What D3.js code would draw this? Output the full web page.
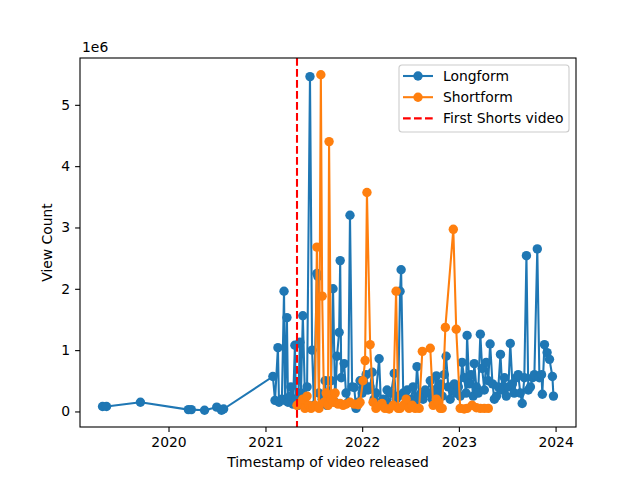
<!DOCTYPE html>
<html>
<head>
<meta charset="utf-8">
<script src="https://cdn.jsdelivr.net/npm/d3@7"></script>
<style>
  body { margin: 0; background: #fff; }
  svg text { font-family: "DejaVu Sans", sans-serif; }
</style>
</head>
<body>
<div id="chart"></div>
<script>
// release dates and view counts
var longDates = ["2019-04-27","2019-05-12","2019-09-17","2020-03-16","2020-03-27","2020-05-16","2020-07-01","2020-07-19","2020-07-27",
  "2021-01-29","2021-02-06","2021-02-17","2021-02-21","2021-03-04","2021-03-12","2021-03-16","2021-03-23","2021-03-27","2021-04-04",
  "2021-04-07","2021-04-15","2021-04-22","2021-04-26","2021-05-04","2021-05-11","2021-05-15","2021-05-22","2021-05-30","2021-06-07",
  "2021-06-18","2021-06-26","2021-07-03","2021-07-14","2021-07-18","2021-07-22","2021-08-03","2021-08-14","2021-08-21","2021-08-29",
  "2021-09-06","2021-09-13","2021-09-21","2021-09-28","2021-10-06","2021-10-10","2021-10-14","2021-10-25","2021-11-01","2021-11-09",
  "2021-11-16","2021-11-24","2021-12-02","2021-12-09","2021-12-17","2021-12-24","2022-01-01","2022-01-08","2022-01-16","2022-01-23",
  "2022-01-31","2022-02-08","2022-02-15","2022-02-22","2022-03-06","2022-03-13","2022-03-21","2022-03-28","2022-04-05","2022-04-13",
  "2022-04-20","2022-05-02","2022-05-09","2022-05-17","2022-05-24","2022-05-28","2022-06-05","2022-06-12","2022-06-20","2022-06-27",
  "2022-07-05","2022-07-12","2022-07-20","2022-07-27","2022-08-04","2022-08-12","2022-08-19","2022-08-27","2022-09-04","2022-09-15",
  "2022-09-23","2022-10-01","2022-10-08","2022-10-15","2022-10-23","2022-10-30","2022-11-07","2022-11-14","2022-11-22","2022-11-29",
  "2022-12-08","2022-12-15","2022-12-22","2022-12-30","2023-01-06","2023-01-13","2023-01-21","2023-01-28","2023-02-01","2023-02-09",
  "2023-02-16","2023-02-24","2023-02-28","2023-03-08","2023-03-15","2023-03-23","2023-03-30","2023-04-07","2023-04-14","2023-04-22",
  "2023-04-29","2023-05-08","2023-05-15","2023-05-23","2023-05-30","2023-06-07","2023-06-14","2023-06-22","2023-06-29","2023-07-07",
  "2023-07-14","2023-07-22","2023-07-29","2023-08-06","2023-08-13","2023-08-21","2023-08-28","2023-09-05","2023-09-13","2023-09-20",
  "2023-09-28","2023-10-06","2023-10-13","2023-10-24","2023-11-01","2023-11-09","2023-11-12","2023-11-20","2023-11-30","2023-12-09",
  "2023-12-20","2023-12-24"];
var longViews = [80000,80000,150000,30000,30000,20000,70000,20000,40000,
  570000,180000,1040000,150000,200000,1960000,180000,1530000,150000,250000,
  400000,120000,1080000,200000,100000,1130000,300000,1560000,250000,400000,
  5460000,1000000,100000,2250000,2200000,300000,200000,500000,100000,300000,
  500000,2000000,150000,900000,1290000,2460000,550000,780000,300000,150000,
  3200000,400000,390000,50000,150000,500000,300000,450000,600000,350000,
  400000,640000,200000,300000,860000,100000,200000,150000,350000,100000,
  300000,620000,200000,250000,1960000,2310000,300000,250000,350000,100000,
  200000,400000,150000,730000,250000,300000,200000,350000,300000,500000,
  200000,350000,580000,300000,450000,250000,600000,900000,400000,200000,
  350000,450000,300000,400000,250000,800000,550000,300000,1240000,450000,
  600000,250000,780000,400000,300000,1260000,700000,350000,800000,500000,
  1100000,450000,200000,250000,400000,930000,350000,550000,250000,400000,
  1110000,450000,300000,550000,600000,300000,130000,550000,2540000,350000,
  400000,550000,600000,2650000,550000,600000,280000,1090000,960000,850000,
  570000,250000];

var shortDates = ["2021-04-30","2021-05-07","2021-05-15","2021-05-22","2021-05-30","2021-06-07","2021-06-14","2021-06-22","2021-06-29",
  "2021-07-07","2021-07-14","2021-07-22","2021-07-29","2021-08-03","2021-08-10","2021-08-18","2021-08-25","2021-08-29","2021-09-06",
  "2021-09-13","2021-09-21","2021-10-02","2021-10-10","2021-10-21","2021-11-01","2021-11-16","2021-12-02","2021-12-17","2021-12-24",
  "2022-01-04","2022-01-12","2022-01-19","2022-01-31","2022-02-11","2022-02-22","2022-03-02","2022-03-17","2022-03-28","2022-04-13",
  "2022-04-28","2022-05-09","2022-05-17","2022-05-24","2022-06-05","2022-06-16","2022-06-27","2022-07-09","2022-07-20","2022-08-04",
  "2022-08-16","2022-09-15","2022-09-26","2022-10-08","2022-10-15","2022-10-23","2022-10-30","2022-11-11","2022-12-11","2022-12-22",
  "2023-01-06","2023-01-21","2023-02-01","2023-02-20","2023-03-08","2023-03-23","2023-04-07","2023-04-22"];
var shortViews = [100000,120000,150000,200000,50000,250000,100000,50000,80000,
  100000,2680000,50000,5490000,1880000,150000,300000,100000,4400000,200000,
  150000,300000,120000,130000,100000,120000,150000,120000,110000,150000,
  500000,830000,3570000,1090000,150000,50000,80000,130000,50000,40000,
  100000,1960000,50000,50000,100000,200000,50000,100000,50000,50000,
  980000,1030000,100000,200000,150000,50000,50000,1370000,2970000,1340000,
  50000,40000,50000,100000,60000,50000,50000,50000];

var firstShorts = "2021-04-30";
var xTickYears = [2020, 2021, 2022, 2023, 2024];
var yTicks = [0, 1e6, 2e6, 3e6, 4e6, 5e6];

var W = 640, H = 480;
var m = {left: 80, right: 64, top: 58, bottom: 53};
var iw = W - m.left - m.right, ih = H - m.top - m.bottom;
var R = 4.7;

var parse = d3.timeParse("%Y-%m-%d");
var longData = longDates.map(function(d, i){ return {x: parse(d), y: longViews[i]}; });
var shortData = shortDates.map(function(d, i){ return {x: parse(d), y: shortViews[i]}; });
var all = longData.concat(shortData);

var xExt = d3.extent(all, function(d){ return +d.x; });
var xPad = (xExt[1] - xExt[0]) * 0.05;
var x = d3.scaleTime().domain([new Date(xExt[0] - xPad), new Date(xExt[1] + xPad)]).range([0, iw]);
var yExt = d3.extent(all, function(d){ return d.y; });
var yPad = (yExt[1] - yExt[0]) * 0.05;
var y = d3.scaleLinear().domain([yExt[0] - yPad, yExt[1] + yPad]).range([ih, 0]);

var svg = d3.select("#chart").append("svg").attr("width", W).attr("height", H);
var g = svg.append("g").attr("transform", "translate(" + m.left + "," + m.top + ")");

var line = d3.line().x(function(d){ return x(d.x); }).y(function(d){ return y(d.y); });

function drawSeries(data, color) {
  g.append("path").datum(data)
    .attr("fill", "none").attr("stroke", color).attr("stroke-width", 2.08)
    .attr("stroke-linejoin", "round").attr("d", line);
  g.append("g").selectAll("circle").data(data).enter().append("circle")
    .attr("cx", function(d){ return x(d.x); })
    .attr("cy", function(d){ return y(d.y); })
    .attr("r", R).attr("fill", color);
}
drawSeries(longData, "#1f77b4");
drawSeries(shortData, "#ff7f0e");

// first shorts marker
var fx = x(parse(firstShorts));
g.append("line").attr("x1", fx).attr("x2", fx).attr("y1", 0).attr("y2", ih)
  .attr("stroke", "red").attr("stroke-width", 2.08).attr("stroke-dasharray", "7.7,3.3");

// axes
var xAxis = d3.axisBottom(x)
  .tickValues(xTickYears.map(function(yr){ return new Date(yr, 0, 1); }))
  .tickFormat(d3.timeFormat("%Y")).tickSizeOuter(0).tickSize(4.9).tickPadding(4.9);
var gx = g.append("g").attr("transform", "translate(0," + ih + ")").call(xAxis);
var yAxis = d3.axisLeft(y).tickValues(yTicks)
  .tickFormat(function(d){ return d / 1e6; }).tickSizeOuter(0).tickSize(4.9).tickPadding(4.9);
var gy = g.append("g").call(yAxis);
[gx, gy].forEach(function(a){
  a.select(".domain").remove();
  a.selectAll("line").attr("stroke", "#000").attr("stroke-width", 1.1);
  a.selectAll("text").attr("font-size", 13.9).attr("fill", "#000").style("font-family", "DejaVu Sans");
});

g.append("rect").attr("width", iw).attr("height", ih)
  .attr("fill", "none").attr("stroke", "#000").attr("stroke-width", 1.1);

g.append("text").attr("x", 2).attr("y", -6).attr("font-size", 13.9).text("1e6");

svg.append("text").attr("x", m.left + iw / 2).attr("y", 467)
  .attr("text-anchor", "middle").attr("font-size", 13.9).text("Timestamp of video released");
svg.append("text").attr("transform", "translate(52," + (m.top + ih / 2) + ") rotate(-90)")
  .attr("text-anchor", "middle").attr("font-size", 13.9).text("View Count");

// legend
var lg = svg.append("g").attr("transform", "translate(399,65)");
lg.append("rect").attr("width", 170).attr("height", 67).attr("rx", 3)
  .attr("fill", "#fff").attr("fill-opacity", 0.8).attr("stroke", "#ccc").attr("stroke-width", 1.1);
var items = [
  {label: "Longform", color: "#1f77b4", dash: null, marker: true},
  {label: "Shortform", color: "#ff7f0e", dash: null, marker: true},
  {label: "First Shorts video", color: "red", dash: "7.7,3.3", marker: false}
];
items.forEach(function(it, i){
  var yy = 11 + i * 21.2;
  lg.append("line").attr("x1", 4).attr("x2", 34).attr("y1", yy).attr("y2", yy)
    .attr("stroke", it.color).attr("stroke-width", 2.08).attr("stroke-dasharray", it.dash);
  if (it.marker) lg.append("circle").attr("cx", 19).attr("cy", yy).attr("r", R).attr("fill", it.color);
  lg.append("text").attr("x", 44).attr("y", yy + 5).attr("font-size", 13.9).text(it.label);
});
</script>
</body>
</html>
